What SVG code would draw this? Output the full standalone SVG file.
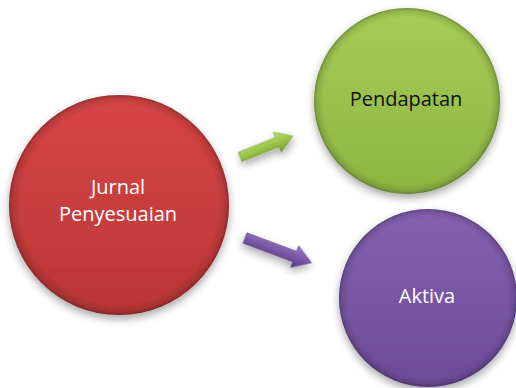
<svg xmlns="http://www.w3.org/2000/svg" width="516" height="388" viewBox="0 0 516 388">
  <style>
    .lbl { font-family: "Open Sans", "Liberation Sans", sans-serif; font-size: 20px; text-anchor: middle; }
    .light { fill: #ffffff; }
    .dark { fill: #111111; }
  </style>
  <defs>
    <linearGradient id="gRed" x1="0" y1="0" x2="0" y2="1">
      <stop offset="0" stop-color="#d84545"/>
      <stop offset="1" stop-color="#b93636"/>
    </linearGradient>
    <linearGradient id="gGreen" x1="0" y1="0" x2="0" y2="1">
      <stop offset="0" stop-color="#a6cd55"/>
      <stop offset="1" stop-color="#8db543"/>
    </linearGradient>
    <linearGradient id="gPurple" x1="0" y1="0" x2="0" y2="1">
      <stop offset="0" stop-color="#8560b2"/>
      <stop offset="1" stop-color="#6c4c98"/>
    </linearGradient>
    <radialGradient id="bevel" cx="0.5" cy="0.5" r="0.5">
      <stop offset="0.9" stop-color="#000" stop-opacity="0"/>
      <stop offset="0.97" stop-color="#000" stop-opacity="0.12"/>
      <stop offset="1" stop-color="#000" stop-opacity="0.3"/>
    </radialGradient>
    <linearGradient id="arrGreen" x1="0" y1="0" x2="0" y2="1">
      <stop offset="0" stop-color="#b8dc6a"/>
      <stop offset="0.5" stop-color="#9cc64a"/>
      <stop offset="1" stop-color="#6f9a2c"/>
    </linearGradient>
    <linearGradient id="arrPurple" x1="0" y1="0" x2="0" y2="1">
      <stop offset="0" stop-color="#9a78c6"/>
      <stop offset="0.5" stop-color="#7a58a8"/>
      <stop offset="1" stop-color="#53367a"/>
    </linearGradient>
    <filter id="shadow" x="-20%" y="-20%" width="140%" height="150%">
      <feGaussianBlur in="SourceAlpha" stdDeviation="4"/>
      <feOffset dx="0" dy="4" result="b"/>
      <feComponentTransfer><feFuncA type="linear" slope="0.35"/></feComponentTransfer>
      <feMerge><feMergeNode/><feMergeNode in="SourceGraphic"/></feMerge>
    </filter>
  </defs>

  <g id="connectors">
    <g transform="translate(240,157) rotate(-21.6)" filter="url(#shadow)">
      <path d="M0,-5 L40,-5 L40,-11 L57,0 L40,11 L40,5 L0,5 Z" fill="url(#arrGreen)" stroke="#7aa235" stroke-width="0.6"/>
    </g>
    <g transform="translate(245,238) rotate(20.5)" filter="url(#shadow)">
      <path d="M0,-5.5 L53,-5.5 L53,-11.5 L71,0 L53,11.5 L53,5.5 L0,5.5 Z" fill="url(#arrPurple)" stroke="#5e4288" stroke-width="0.6"/>
    </g>
  </g>

  <g id="node-jurnal">
    <circle cx="119" cy="205" r="110" fill="url(#gRed)" filter="url(#shadow)"/>
    <circle cx="119" cy="205" r="110" fill="url(#bevel)"/>
    <text class="lbl light" x="118" y="194">Jurnal</text>
    <text class="lbl light" x="118" y="221">Penyesuaian</text>
  </g>

  <g id="node-pendapatan">
    <circle cx="407" cy="101" r="93" fill="url(#gGreen)" filter="url(#shadow)"/>
    <circle cx="407" cy="101" r="93" fill="url(#bevel)"/>
    <text class="lbl dark" x="406" y="106">Pendapatan</text>
  </g>

  <g id="node-aktiva">
    <circle cx="428" cy="298" r="89" fill="url(#gPurple)" filter="url(#shadow)"/>
    <circle cx="428" cy="298" r="89" fill="url(#bevel)"/>
    <text class="lbl light" x="427" y="303">Aktiva</text>
  </g>
</svg>
